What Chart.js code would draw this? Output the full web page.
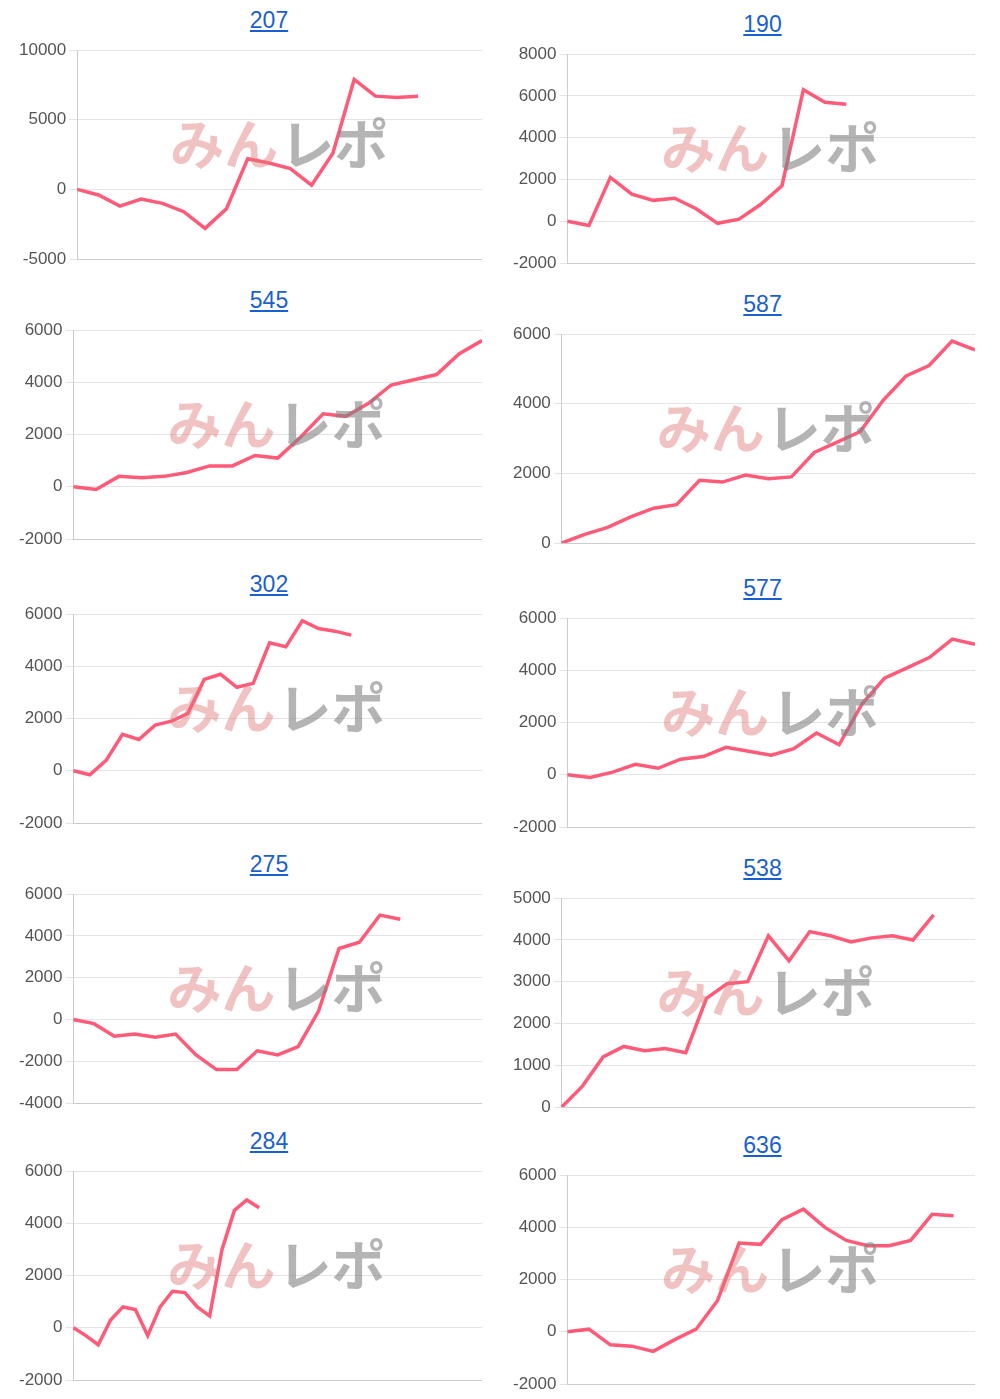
<!DOCTYPE html>
<html><head><meta charset="utf-8">
<script src="https://cdn.jsdelivr.net/npm/chart.js@4"></script>
<style>
body{margin:0;background:#fff;font-family:"Liberation Sans",Arial,sans-serif;}
.box{position:absolute;height:275px;}
.ttl{height:34px;text-align:center;font-size:23px;line-height:34px;padding-left:40px;}
.ttl a{color:#1a5fd0;text-decoration:underline;}
.cv{position:relative;height:238px;}
</style></head><body>
<script>
// titles, label counts, y ranges and values per chart
const titles = ['207','190','545','587','302','577','275','538','284','636'];
const counts = [20,20,19,19,26,19,21,21,34,20];
const yMin = [-5000,-2000,-2000,0,-2000,-2000,-4000,0,-2000,-2000];
const yMax = [10000,8000,6000,6000,6000,6000,6000,5000,6000,6000];
const ySteps = [5000,2000,2000,2000,2000,2000,2000,1000,2000,2000];
const s207 = [0,-400,-1200,-700,-1000,-1600,-2800,-1400,2200,1900,1500,300,2600,7900,6700,6600,6700];
const s190 = [0,-200,2100,1300,1000,1100,600,-100,100,800,1700,6300,5700,5600];
const s545 = [0,-100,400,350,400,550,800,800,1200,1100,1900,2800,2700,3200,3900,4100,4300,5100,5600];
const s587 = [0,250,450,750,1000,1100,1800,1750,1950,1850,1900,2600,2900,3200,4100,4800,5100,5800,5550];
const s302 = [0,-150,400,1400,1200,1750,1900,2200,3500,3700,3200,3350,4900,4750,5750,5450,5350,5200];
const s577 = [0,-100,100,400,250,600,700,1050,900,750,1000,1600,1150,2700,3700,4100,4500,5200,5000];
const s275 = [0,-200,-800,-700,-850,-700,-1700,-2400,-2400,-1500,-1700,-1300,400,3400,3700,5000,4800];
const s538 = [0,500,1200,1450,1350,1400,1300,2600,2950,3000,4100,3500,4200,4100,3950,4050,4100,4000,4600];
const s284 = [0,-300,-650,300,800,700,-300,800,1400,1350,800,450,3000,4500,4900,4600];
const s636 = [0,100,-500,-550,-750,-300,100,1200,3400,3350,4300,4700,4000,3500,3300,3300,3500,4500,4450];
const series = [s207,s190,s545,s587,s302,s577,s275,s538,s284,s636];
const rowTops = [3,283,567,847,1124];
const colLeft = [16,510];
const colWidth = [466,465];

const watermark = {
  id:'wm',
  afterDatasetsDraw(chart){
    const c = chart.ctx, a = chart.chartArea;
    const x = a.left + (a.right-a.left)*0.23, y = a.top + (a.bottom-a.top)*0.45;
    c.save();
    c.font = 'bold 54px "Noto Sans CJK JP"';
    c.textBaseline = 'middle';
    c.fillStyle = 'rgba(225,120,120,0.45)';
    c.fillText('みん', x, y);
    const w = c.measureText('みん').width;
    c.fillStyle = 'rgba(130,130,130,0.6)';
    c.fillText('レポ', x + w + 2, y);
    c.restore();
  }
};

titles.forEach((t,i)=>{
  const col = i%2, row = Math.floor(i/2);
  const box = document.createElement('div');
  box.className = 'box';
  box.style.left = colLeft[col] + 'px';
  box.style.width = colWidth[col] + 'px';
  box.style.top = (rowTops[row] + (col ? 4 : 0)) + 'px';
  box.innerHTML = '<div class="ttl"><a>'+t+'</a></div><div class="cv"><canvas></canvas></div>';
  document.body.appendChild(box);
  const labels = [];
  for (let k=0;k<counts[i];k++) labels.push(k+1);
  new Chart(box.querySelector('canvas'), {
    type:'line',
    data:{labels:labels, datasets:[{data:series[i], borderColor:'#ff5a78', borderWidth:3.5, pointRadius:0, fill:false, tension:0}]},
    plugins:[watermark],
    options:{
      animation:false, responsive:true, maintainAspectRatio:false,
      layout:{padding:{left:0,right:0,top:8,bottom:8}},
      plugins:{legend:{display:false}, tooltip:{enabled:false}},
      scales:{
        x:{grid:{display:false}, ticks:{display:false}, border:{color:'#ccc'}},
        y:{min:yMin[i], max:yMax[i],
           ticks:{stepSize:ySteps[i], color:'#555', font:{size:17}, callback:v=>String(v)},
           grid:{color:'#e4e4e4', tickLength:8}, border:{color:'#ccc'}}
      }
    }
  });
});
</script>
</body></html>
